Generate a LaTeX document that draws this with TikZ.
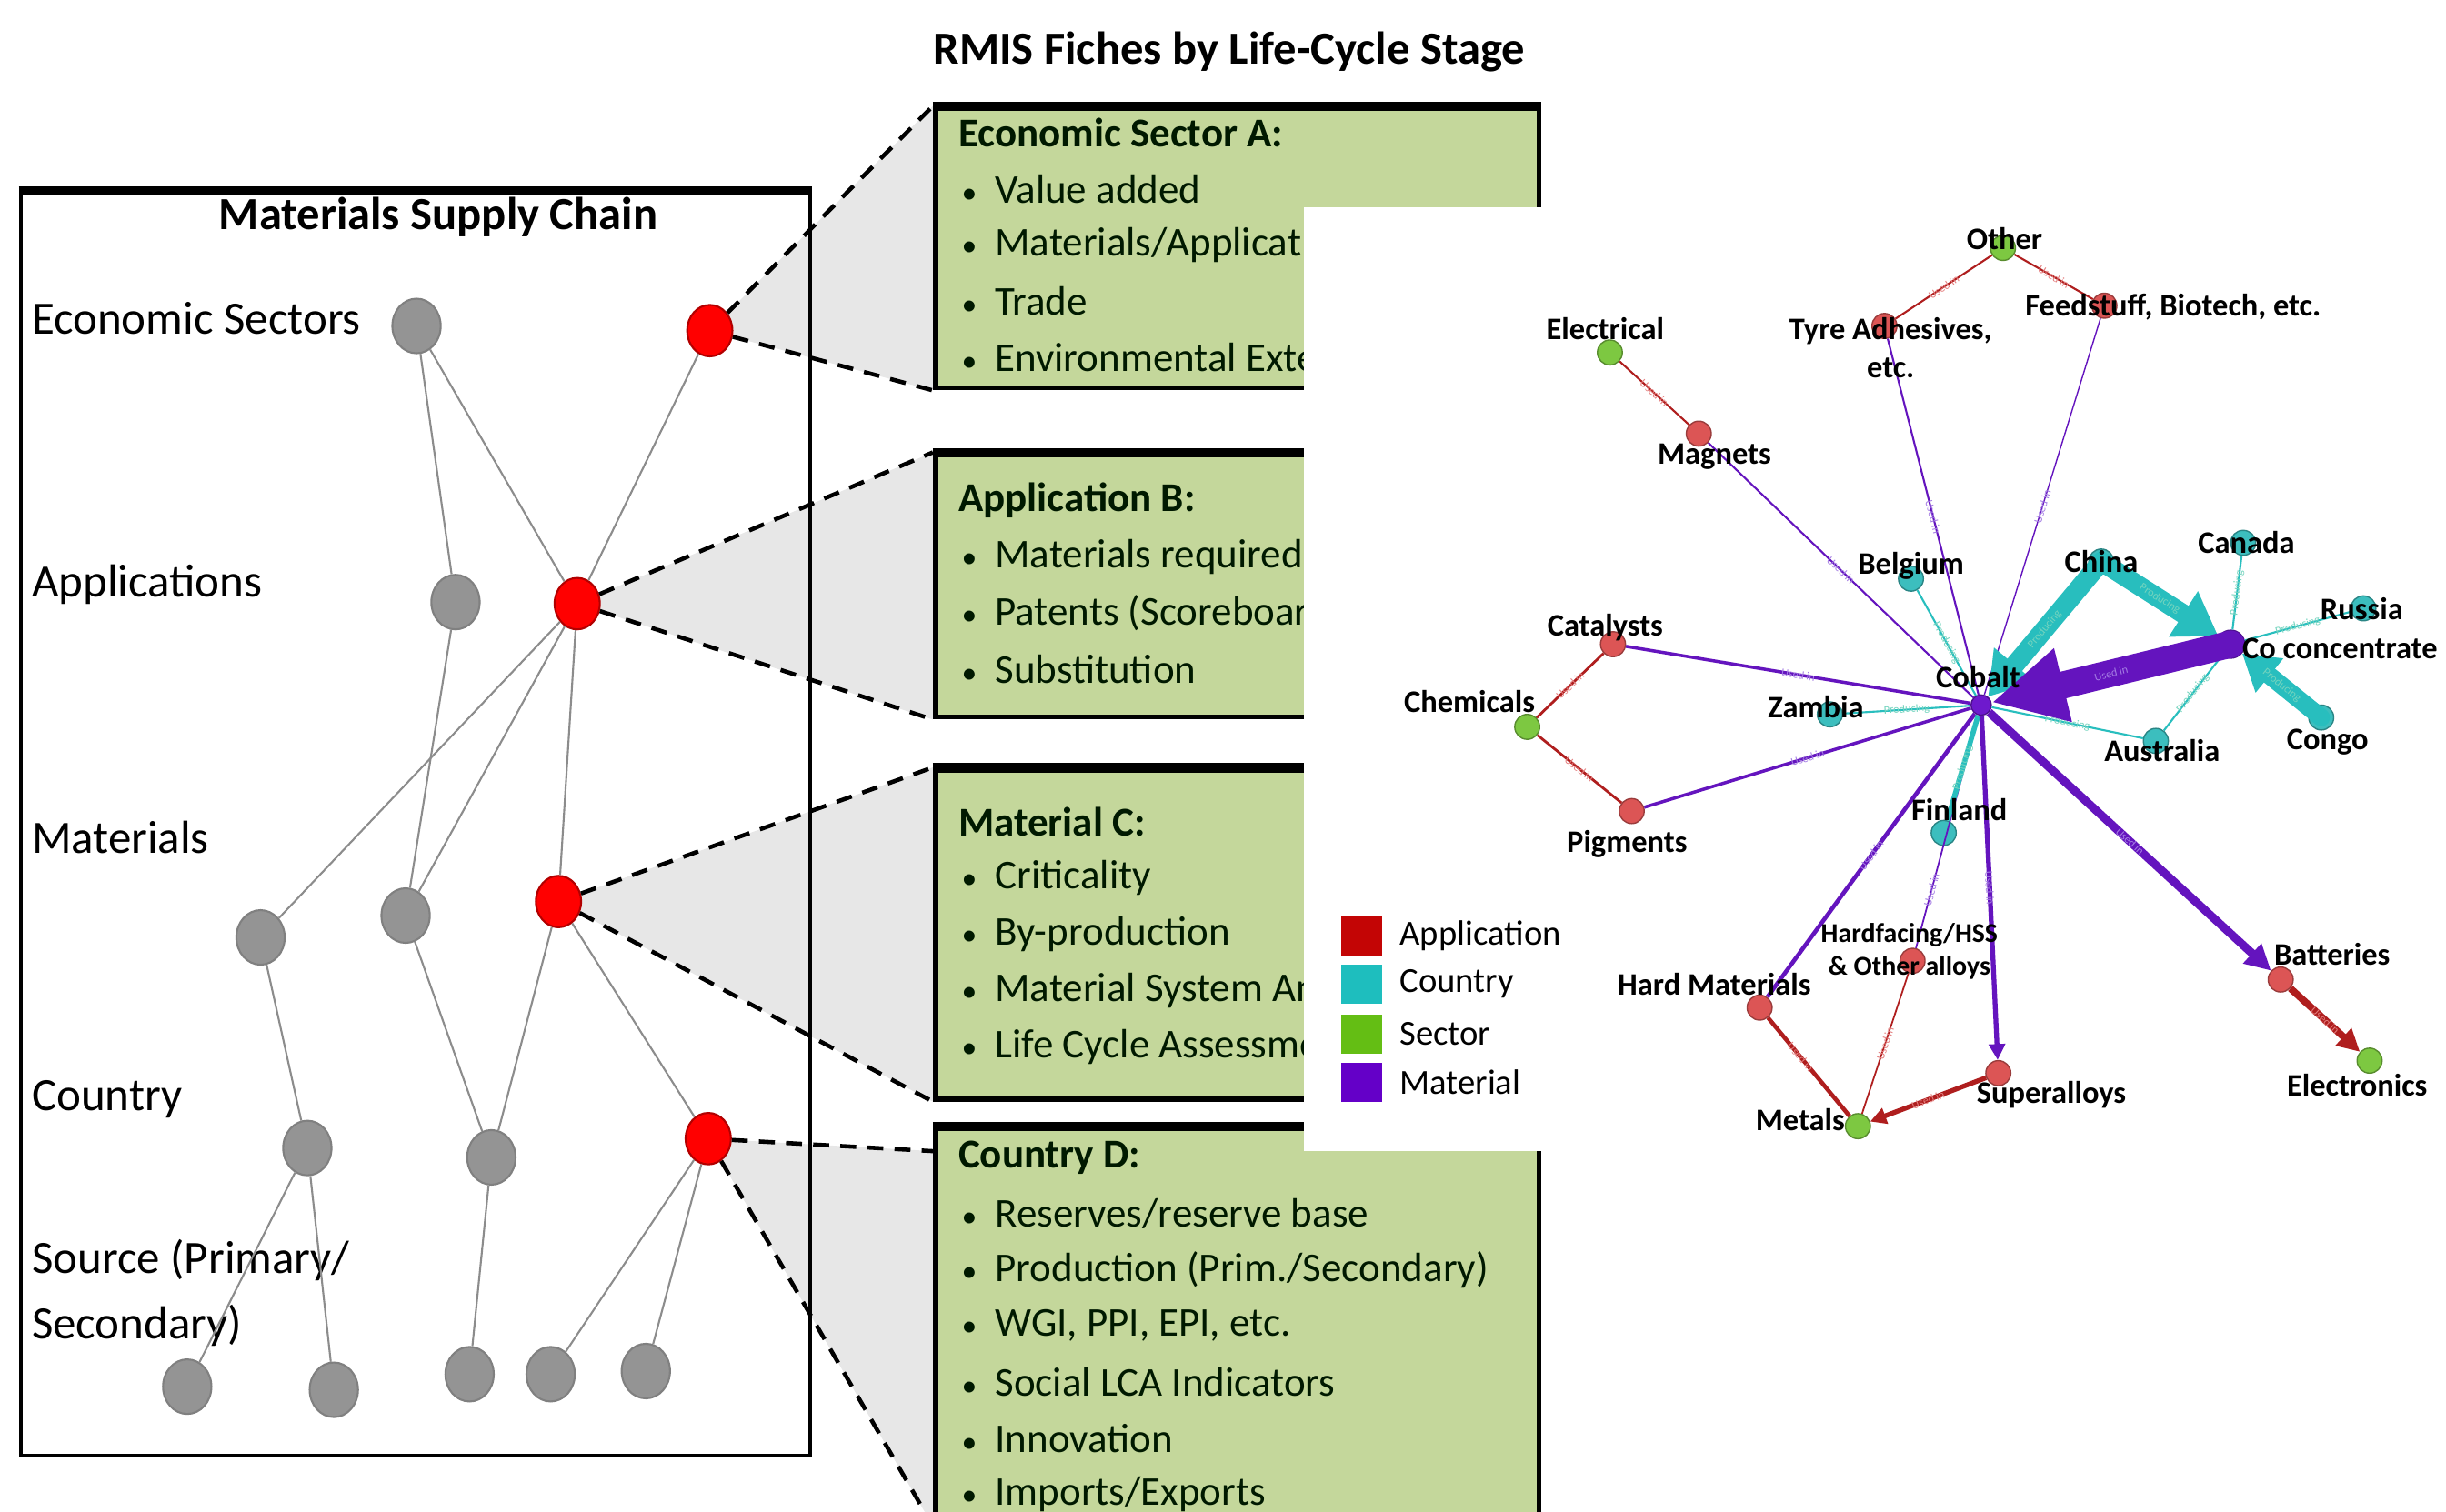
\documentclass[tikz,border=0pt]{standalone}
\usepackage{fontspec}
\setmainfont{Carlito}
\usetikzlibrary{shapes.geometric, arrows.meta, calc, backgrounds}
\definecolor{fichegreen}{RGB}{196,215,155}
\definecolor{zoomgrey}{RGB}{231,231,231}
\definecolor{appfill}{RGB}{220,85,85}
\definecolor{ctryfill}{RGB}{60,190,190}
\definecolor{sectfill}{RGB}{125,200,65}
\definecolor{matfill}{RGB}{110,25,205}
\definecolor{redlinkc}{RGB}{175,30,30}
\definecolor{purplelinkc}{RGB}{100,20,190}
\definecolor{teallinkc}{RGB}{40,190,190}
\definecolor{usedred}{RGB}{228,125,125}
\definecolor{usedpurple}{RGB}{165,125,228}
\definecolor{prodteal}{RGB}{115,212,190}
\definecolor{legapp}{RGB}{195,5,5}
\definecolor{legctry}{RGB}{30,190,190}
\definecolor{legsect}{RGB}{100,190,20}
\definecolor{legmat}{RGB}{100,0,200}
\def\pxu{0.17156mm}
\newcommand{\fitem}[1]{\makebox[11.5pt][l]{\hspace{1pt}\scalebox{0.75}{\textbullet}}#1}
\tikzset{
  chainnode/.style={ellipse, draw=black!50, fill=black!42, line width=0.6pt,
                    minimum width=31*\pxu, minimum height=35*\pxu, inner sep=0pt},
  selnode/.style={chainnode, draw=red!70!black, fill=red,
                  minimum width=29*\pxu, minimum height=33*\pxu},
  chainlink/.style={draw=black!45, line width=0.6pt},
  zoomline/.style={line width=1.3pt, dash pattern=on 5pt off 3.5pt},
  fichebox/.style={rectangle, draw=black, line width=1.6pt, fill=fichegreen,
                   anchor=north west, inner sep=0pt, minimum width=387*\pxu},
  fichehead/.style={anchor=west, inner sep=0pt, text=black!90!green,
                    font=\fontsize{12.8}{15}\selectfont\bfseries},
  ficheitem/.style={anchor=west, inner sep=0pt, text=black!90!green,
                    font=\fontsize{12.8}{15}\selectfont},
  rowlabel/.style={anchor=west, inner sep=0pt, align=left, font=\fontsize{14.5}{20.5}\selectfont},
  headline/.style={inner sep=0pt, font=\fontsize{14.4}{17}\selectfont\bfseries},
  netnode/.style={circle, inner sep=0pt, minimum size=16*\pxu, line width=0.4pt},
  appnode/.style={netnode, fill=appfill, draw=appfill!70!black},
  ctrynode/.style={netnode, fill=ctryfill, draw=ctryfill!70!black},
  sectnode/.style={netnode, fill=sectfill, draw=sectfill!70!black},
  matnode/.style={netnode, fill=matfill, draw=matfill!70!black},
  netlabel/.style={inner sep=0pt, align=center, font=\fontsize{9.8}{12.2}\selectfont\bfseries},
  elabel/.style={midway, sloped, inner sep=0pt, font=\fontsize{3.5}{4}\selectfont},
  redlink/.style={draw=redlinkc, line width=0.6pt},
  purplelink/.style={draw=purplelinkc, line width=0.6pt},
  teallink/.style={draw=teallinkc, line width=0.6pt},
  legkey/.style={rectangle, inner sep=0pt, minimum width=26*\pxu, minimum height=25*\pxu},
  legtext/.style={anchor=west, inner sep=0pt, font=\fontsize{11}{13}\selectfont},
}

\begin{document}
\begin{tikzpicture}[x=\pxu, y=-\pxu]
  \clip (0,0) rectangle (1568,969);

  \node[headline] (fichetitle) at (788,33) {RMIS Fiches by Life-Cycle Stage};
  \node[draw, line width=1.2pt, inner sep=0pt, anchor=north west,
        minimum width=506*\pxu, minimum height=810*\pxu] (chainbox) at (12,122) {};
  \draw[line width=2.4pt] (chainbox.north west) -- (chainbox.north east);
  \node[headline] (chaintitle) at (281,139) {Materials Supply Chain};

  % stage labels
  \node[rowlabel] (rowSec) at (20,204) {Economic Sectors};
  \node[rowlabel] (rowApp) at (20,375) {Applications};
  \node[rowlabel] (rowMat) at (20,537) {Materials};
  \node[rowlabel] (rowCtry) at (20,705) {Country};
  \node[rowlabel] (rowSrc) at (20,829) {Source (Primary/\\Secondary)};

  % supply chain
  \foreach \n/\x/\y in {gSec/267/209, gApp/292/386, gMat1/167/601, gMat2/260/587,
                        gCtry1/197/736, gCtry2/315/742, gSrc1/120/889, gSrc2/214/891,
                        gSrc3/301/881, gSrc4/353/881, gSrc5/414/879}
    \node[chainnode] (\n) at (\x,\y) {};
  \foreach \n/\x/\y in {selA/455/212, selB/370/387, selC/358/578, selD/454/730}
    \node[selnode] (\n) at (\x,\y) {};
  \foreach \a/\b in {gSec/gApp, gSec/selB, selA/selB, gApp/gMat2, selB/gMat1, selB/gMat2,
                     selB/selC, gMat1/gCtry1, gMat2/gCtry2, selC/gCtry2, selC/selD,
                     gCtry1/gSrc1, gCtry1/gSrc2, gCtry2/gSrc3, selD/gSrc4, selD/gSrc5}
    \draw[chainlink] (\a) -- (\b);

  % fiches
  \node[fichebox, minimum height=179*\pxu] (ficheA) at (598,68) {};
  \node[fichebox, minimum height=168*\pxu] (ficheB) at (598,290) {};
  \node[fichebox, minimum height=211*\pxu] (ficheC) at (598,492) {};
  \node[fichebox, minimum height=253*\pxu] (ficheD) at (598,722) {};
  \foreach \f in {ficheA, ficheB, ficheC, ficheD}
    \draw[line width=2.8pt] (\f.north west) -- (\f.north east);
  \coordinate (ficheDtop) at ($(ficheD.north west)+(0,16)$);

  \begin{scope}[on background layer]
    \foreach \s/\f in {selA/ficheA, selB/ficheB, selC/ficheC}
      \fill[zoomgrey] (\s.center) -- (\f.north west) -- (\f.south west) -- cycle;
    \fill[zoomgrey] (selD.center) -- (ficheDtop) -- (ficheD.south west) -- cycle;
  \end{scope}
  \foreach \s/\f in {selA/ficheA, selB/ficheB, selC/ficheC}{
    \draw[zoomline] (\s) -- (\f.north west);
    \draw[zoomline] (\s) -- (\f.south west);
  }
  \draw[zoomline] (selD) -- (ficheDtop);
  \draw[zoomline] (selD) -- (ficheD.south west);

  \node[fichehead] (headA) at (614,85) {Economic Sector A:};
  \foreach \t [count=\i] in {Value added, Materials/Applicat, Trade, Environmental Exte}
    \node[ficheitem] (itemA\i) at (614,85+36*\i) {\fitem{\t}};
  \node[fichehead] (headB) at (614,321) {Application B:};
  \foreach \t [count=\i] in {Materials required, Patents (Scoreboar, Substitution}
    \node[ficheitem] (itemB\i) at (614,321+36*\i) {\fitem{\t}};
  \node[fichehead] (headC) at (614,527) {Material C:};
  \foreach \t [count=\i] in {Criticality, By-production, Material System An, Life Cycle Assessme}
    \node[ficheitem] (itemC\i) at (614,527+36*\i) {\fitem{\t}};
  \node[fichehead] (headD) at (614,742) {Country D:};
  \foreach \t [count=\i] in {Reserves/reserve base, Production (Prim./Secondary),
                             {WGI, PPI, EPI, etc.}, Social LCA Indicators, Innovation, Imports/Exports}
    \node[ficheitem] (itemD\i) at (614,742+36*\i) {\fitem{\t}};

  % cobalt network panel
  \fill[white] (836,133) rectangle (1568,738);

  \foreach \c/\t/\y [count=\i] in {legapp/Application/600, legctry/Country/631,
                                   legsect/Sector/663, legmat/Material/694}{
    \node[legkey, fill=\c] (key\i) at (873,\y) {};
    \node[legtext] (keytext\i) at (897,\y) {\t};
  }

  \foreach \n/\x/\y in {elec/1032/226, other/1284/159, chem/979/466, metals/1191/722, elect/1519/680}
    \node[sectnode] (\n) at (\x,\y) {};
  \foreach \n/\x/\y in {tyre/1208/209, feed/1349/196, magn/1089/278, catal/1034/413, pigm/1046/520,
                        hardf/1226/616, hardm/1128/646, supera/1281/688, batt/1462/628}
    \node[appnode] (\n) at (\x,\y) {};
  \foreach \n/\x/\y in {belg/1225/371, china/1347/360, canada/1438/348, russia/1515/390,
                        congo/1488/460, austr/1382/475, zambia/1173/458, finl/1246/534}
    \node[ctrynode] (\n) at (\x,\y) {};
  \node[matnode, minimum size=13*\pxu] (cobalt) at (1270,452) {};
  \node[matnode, minimum size=18*\pxu] (coconc) at (1430,413) {};

  \foreach \a/\b/\w/\p in {elec/magn/0.6pt/0.5, other/tyre/0.6pt/0.5, other/feed/0.6pt/0.5,
                           chem/catal/0.8pt/0.5, chem/pigm/0.8pt/0.5, hardf/metals/0.5pt/0.5,
                           hardm/metals/1.3pt/0.4}
    \draw[redlink, line width=\w] (\a) -- (\b) node[elabel, pos=\p, text=usedred] {Used in};
  \foreach \a/\b/\w/\p in {magn/cobalt/0.6pt/0.5, tyre/cobalt/0.6pt/0.5, feed/cobalt/0.4pt/0.5,
                           cobalt/hardf/0.5pt/0.75, catal/cobalt/1pt/0.5, pigm/cobalt/1pt/0.5,
                           cobalt/hardm/1.3pt/0.5}
    \draw[purplelink, line width=\w] (\a) -- (\b) node[elabel, pos=\p, text=usedpurple] {Used in};
  \foreach \a/\b/\w in {belg/cobalt/0.6pt, zambia/cobalt/0.6pt, canada/coconc/0.6pt, russia/coconc/0.6pt,
                        austr/coconc/0.6pt, austr/cobalt/0.6pt, finl/cobalt/1.6pt}
    \draw[teallink, line width=\w] (\a) -- (\b) node[elabel, text=prodteal] {Producing};

  % weighted flows
  \draw[teallink, line width=6pt, line cap=round, -{Triangle[length=13pt,width=16pt]}]
    (china.center) -- (cobalt) node[elabel, text=prodteal] {Producing};
  \draw[teallink, line width=6pt, line cap=round, -{Triangle[length=13pt,width=16pt]}]
    (china.center) -- (coconc) node[elabel, text=prodteal] {Producing};
  \draw[teallink, line width=5.5pt, line cap=round, -{Triangle[length=11pt,width=13pt]}]
    (congo.center) -- (coconc) node[elabel, text=prodteal] {Producing};
  \draw[purplelink, line width=8.5pt, line cap=round, -{Triangle[length=23pt,width=22pt]}]
    (coconc.center) -- (cobalt) node[elabel, text=usedpurple] {Used in};
  \draw[purplelink, line width=2.6pt, -{Triangle[length=8pt,width=8pt]}]
    (cobalt) -- (batt) node[elabel, text=usedpurple] {Used in};
  \draw[purplelink, line width=1.5pt, -{Triangle[length=5pt,width=5pt]}]
    (cobalt) -- (supera) node[elabel, text=usedpurple] {Used in};
  \draw[redlink, line width=1.5pt, -{Triangle[length=5pt,width=5pt]}]
    (supera) -- (metals) node[elabel, text=usedred] {Used in};
  \draw[redlink, line width=2.2pt, -{Triangle[length=7pt,width=7pt]}]
    (batt) -- (elect) node[elabel, text=usedred] {Used in};

  % network labels
  \node[netlabel] (lbOther) at (1285,153) {Other};
  \node[netlabel] (lbTyre) at (1212,223) {Tyre Adhesives,\\etc.};
  \node[netlabel] (lbFeed) at (1393,197) {Feedstuff, Biotech, etc.};
  \node[netlabel] (lbElec) at (1029,211) {Electrical};
  \node[netlabel] (lbMagn) at (1099,293) {Magnets};
  \node[netlabel] (lbBelg) at (1225,363) {Belgium};
  \node[netlabel] (lbChina) at (1347,360) {China};
  \node[netlabel] (lbCanada) at (1440,348) {Canada};
  \node[netlabel] (lbRussia) at (1514,390) {Russia};
  \node[netlabel] (lbCoconc) at (1500,416) {Co concentrate};
  \node[netlabel] (lbCongo) at (1492,476) {Congo};
  \node[netlabel] (lbAustr) at (1386,481) {Australia};
  \node[netlabel] (lbCobalt) at (1268,434) {Cobalt};
  \node[netlabel] (lbCatal) at (1029,402) {Catalysts};
  \node[netlabel] (lbChem) at (942,450) {Chemicals};
  \node[netlabel] (lbZambia) at (1164,453) {Zambia};
  \node[netlabel] (lbPigm) at (1043,541) {Pigments};
  \node[netlabel] (lbFinl) at (1256,519) {Finland};
  \node[netlabel, font=\fontsize{8.5}{10.2}\selectfont\bfseries] (lbHardf) at (1224,610) {Hardfacing/HSS\\\& Other alloys};
  \node[netlabel] (lbHardm) at (1099,631) {Hard Materials};
  \node[netlabel] (lbMetals) at (1154,718) {Metals};
  \node[netlabel] (lbSupera) at (1315,702) {Superalloys};
  \node[netlabel] (lbBatt) at (1495,612) {Batteries};
  \node[netlabel] (lbElect) at (1511,696) {Electronics};
\end{tikzpicture}
\end{document}
